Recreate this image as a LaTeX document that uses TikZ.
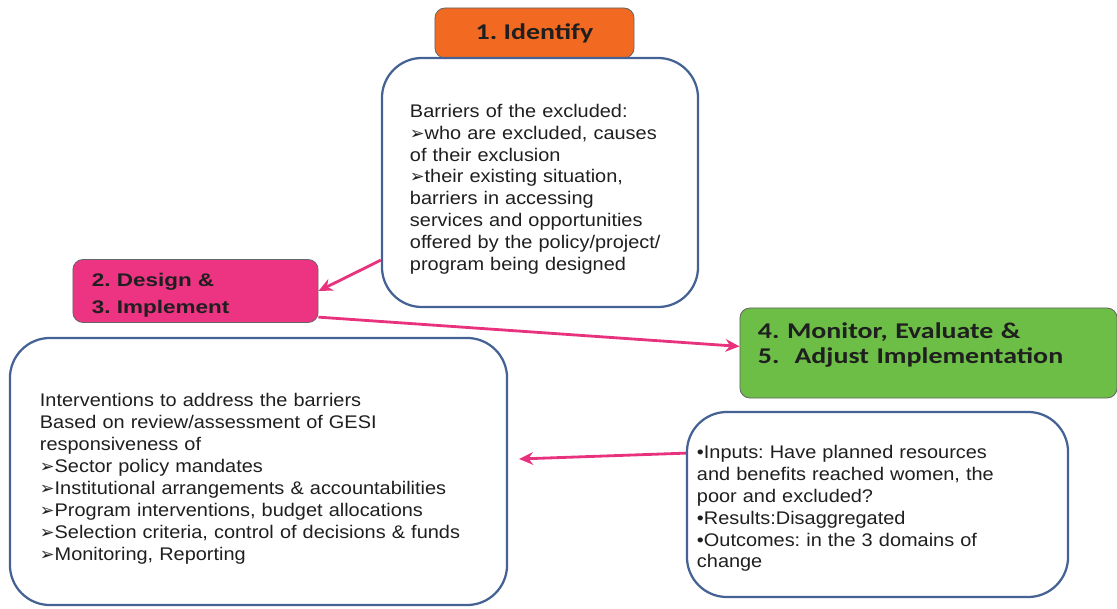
\documentclass[tikz,border=0pt]{standalone}
\usepackage{fontspec}
\setmainfont{Liberation Sans}[FakeStretch=1.09]
\newfontfamily\headfont{Carlito}[FakeStretch=1.24]
\newfontfamily\designfont{Liberation Sans}[FakeStretch=1.23]
\newfontfamily\symfont{DejaVu Sans}
\usetikzlibrary{arrows.meta}
\definecolor{idorange}{RGB}{242,106,34}
\definecolor{despink}{RGB}{236,52,130}
\definecolor{mongreen}{RGB}{108,190,70}
\definecolor{boxblue}{RGB}{68,98,148}
\definecolor{arrpink}{RGB}{232,50,126}
\newcommand{\ab}{{\symfont\bfseries\fontsize{12.5}{12.5}\selectfont\char"27A2}}
\frenchspacing

\begin{document}
\begin{tikzpicture}[x=0.025cm, y=-0.025cm,
        every node/.style={font=\fontsize{13}{15.6}\selectfont, text=black!88},
        bigbox/.style={draw=boxblue, line width=1.6pt, rounded corners=1cm,
                       fill=white, align=left, inner ysep=0pt},
        headbox/.style={draw=black!60, line width=0.6pt, rounded corners=0.25cm,
                        inner ysep=0pt},
        link/.style={arrpink, line width=2pt, -{Stealth[length=10pt,width=9pt]}}]
        \useasboundingbox (0,0) rectangle (1117,609);
        % Nodes
        \node[headbox, fill=idorange, minimum width=4.975cm, minimum height=1.25cm,
              font=\headfont\bfseries\fontsize{16}{19}\selectfont] (id) at (534.5,33) {1. Identify};
        \node[bigbox, text width=6.5cm, inner xsep=0.7cm, minimum height=6.225cm,
              text height=19pt] (bar) at (540,182.5)
            {Barriers of the excluded:\\
             \ab who are excluded, causes\\
             of their exclusion\\
             \ab their existing situation,\\
             barriers in accessing\\
             services and opportunities\\
             offered by the policy/project/\\
             program being designed};
        \node[headbox, fill=despink, align=left, text width=5.175cm, inner xsep=0.475cm,
              minimum height=1.575cm, text height=16pt,
              font=\designfont\bfseries\fontsize{13}{19}\selectfont] (des) at (195.5,291)
            {2. Design \&\\3. Implement};
        \node[headbox, fill=mongreen, align=left, text width=8.525cm, inner xsep=0.45cm,
              minimum height=2.25cm, text height=0pt,
              font=\headfont\bfseries\fontsize{16}{17.7}\selectfont] (grn) at (928.5,353)
            {4. Monitor, Evaluate \&\\5.\ \ Adjust Implementation};
        \node[bigbox, text width=10.925cm, inner xsep=0.75cm, minimum height=6.675cm,
              text height=20pt] (int) at (258.5,471.5)
            {Interventions to address the barriers\\
             Based on review/assessment of GESI\\
             responsiveness of\\
             \ab Sector policy mandates\\
             \ab Institutional arrangements \& accountabilities\\
             \ab Program interventions, budget allocations\\
             \ab Selection criteria, control of decisions \& funds\\
             \ab Monitoring, Reporting};
        \node[bigbox, text width=9.025cm, inner xsep=0.25cm, minimum height=4.625cm,
              text height=15pt] (mon) at (877.5,504.5)
            {•Inputs: Have planned resources\\
             and benefits reached women, the\\
             poor and excluded?\\
             •Results:Disaggregated\\
             •Outcomes: in the 3 domains of\\
             change};
        \coordinate (gap) at (519,459);
        % Edges
        \draw[link] (bar.206) -- (des.east);
        \draw[link] (des.348) -- (grn.178);
        \draw[link] (mon.165) -- (gap);
    \end{tikzpicture}
\end{document}
